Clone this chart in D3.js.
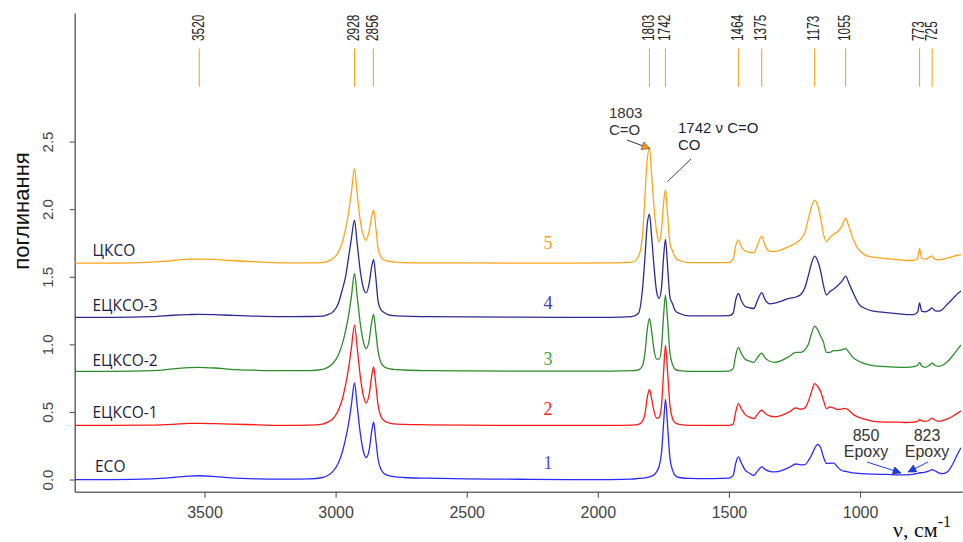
<!DOCTYPE html>
<html>
<head>
<meta charset="utf-8">
<script src="https://cdn.jsdelivr.net/npm/d3@7"></script>
<style>
  html, body { margin: 0; padding: 0; background: #fff; }
  svg { display: block; }
</style>
</head>
<body>
<svg id="chart" width="963" height="542"></svg>
<script>
// Wavenumbers (cm-1) shared by all spectra
const wavenumbers = [
  4000, 3850, 3700, 3620, 3560, 3520, 3460, 3400, 3300, 3200,
  3100, 3050, 3030, 3010, 2990, 2975, 2962, 2950, 2940, 2928,
  2918, 2905, 2893, 2883, 2872, 2862, 2855, 2847, 2838, 2828,
  2815, 2800, 2780, 2740, 2650, 2500, 2300, 2100, 1950, 1870,
  1845, 1830, 1820, 1812, 1803, 1795, 1785, 1775, 1766, 1757,
  1749, 1742, 1734, 1725, 1715, 1705, 1690, 1650, 1560, 1500,
  1484, 1474, 1464, 1452, 1438, 1420, 1405, 1392, 1375, 1362,
  1345, 1325, 1300, 1270, 1245, 1225, 1210, 1197, 1185, 1173,
  1162, 1150, 1140, 1128, 1115, 1100, 1085, 1068, 1055, 1042,
  1025, 1005, 980, 950, 900, 850, 823, 795, 780, 773,
  765, 752, 735, 726, 715, 700, 685, 665, 645, 625,
  615
];

// Absorbance of each sample (before vertical offset)
const absECO = [
  0.000, 0.000, 0.005, 0.015, 0.025, 0.028, 0.022, 0.012, 0.005, 0.003,
  0.005, 0.015, 0.030, 0.060, 0.120, 0.200, 0.300, 0.420, 0.550, 0.714,
  0.550, 0.330, 0.200, 0.163, 0.220, 0.360, 0.426, 0.300, 0.150, 0.080,
  0.045, 0.030, 0.022, 0.015, 0.010, 0.005, 0.002, 0.000, 0.000, 0.003,
  0.008, 0.010, 0.013, 0.016, 0.020, 0.025, 0.035, 0.060, 0.100, 0.200,
  0.420, 0.592, 0.400, 0.160, 0.070, 0.030, 0.015, 0.008, 0.007, 0.010,
  0.030, 0.120, 0.167, 0.120, 0.070, 0.045, 0.030, 0.060, 0.093, 0.075,
  0.060, 0.056, 0.065, 0.090, 0.115, 0.108, 0.110, 0.140, 0.180, 0.230,
  0.260, 0.235, 0.170, 0.120, 0.120, 0.122, 0.090, 0.065, 0.060, 0.055,
  0.049, 0.045, 0.042, 0.040, 0.038, 0.035, 0.035, 0.040, 0.045, 0.050,
  0.050, 0.055, 0.065, 0.074, 0.065, 0.050, 0.044, 0.060, 0.120, 0.200,
  0.235
];
const absECKSO1 = [
  0.000, 0.000, 0.002, 0.008, 0.015, 0.016, 0.014, 0.010, 0.005, 0.000,
  0.002, 0.010, 0.025, 0.050, 0.110, 0.190, 0.300, 0.430, 0.570, 0.741,
  0.580, 0.350, 0.210, 0.167, 0.230, 0.370, 0.433, 0.310, 0.150, 0.070,
  0.035, 0.020, 0.012, 0.008, 0.005, 0.003, 0.000, 0.000, 0.000, 0.002,
  0.008, 0.030, 0.090, 0.200, 0.266, 0.200, 0.100, 0.052, 0.060, 0.150,
  0.400, 0.593, 0.400, 0.150, 0.050, 0.020, 0.008, 0.000, 0.000, 0.000,
  0.010, 0.100, 0.161, 0.120, 0.080, 0.060, 0.050, 0.080, 0.114, 0.090,
  0.070, 0.064, 0.075, 0.100, 0.130, 0.120, 0.130, 0.180, 0.250, 0.310,
  0.290, 0.250, 0.190, 0.125, 0.137, 0.128, 0.118, 0.122, 0.127, 0.110,
  0.080, 0.060, 0.045, 0.030, 0.025, 0.025, 0.022, 0.025, 0.030, 0.044,
  0.035, 0.030, 0.040, 0.054, 0.040, 0.030, 0.035, 0.050, 0.070, 0.095,
  0.108
];
const absECKSO2 = [
  0.000, 0.000, 0.005, 0.018, 0.028, 0.030, 0.025, 0.015, 0.008, 0.005,
  0.006, 0.015, 0.030, 0.060, 0.120, 0.200, 0.300, 0.420, 0.550, 0.724,
  0.560, 0.340, 0.210, 0.169, 0.230, 0.370, 0.423, 0.300, 0.150, 0.070,
  0.035, 0.022, 0.015, 0.010, 0.006, 0.004, 0.002, 0.002, 0.002, 0.005,
  0.012, 0.040, 0.140, 0.300, 0.391, 0.300, 0.150, 0.090, 0.090, 0.180,
  0.420, 0.563, 0.380, 0.140, 0.050, 0.015, 0.005, 0.000, 0.000, 0.002,
  0.020, 0.120, 0.177, 0.130, 0.090, 0.075, 0.067, 0.100, 0.135, 0.100,
  0.075, 0.067, 0.080, 0.110, 0.140, 0.140, 0.160, 0.200, 0.280, 0.334,
  0.310, 0.260, 0.220, 0.140, 0.140, 0.153, 0.153, 0.160, 0.169, 0.140,
  0.100, 0.075, 0.055, 0.042, 0.035, 0.030, 0.030, 0.035, 0.045, 0.067,
  0.040, 0.030, 0.045, 0.061, 0.045, 0.037, 0.045, 0.075, 0.120, 0.170,
  0.195
];
const absECKSO3 = [
  0.000, 0.000, 0.005, 0.015, 0.020, 0.022, 0.020, 0.015, 0.008, 0.005,
  0.006, 0.008, 0.020, 0.040, 0.100, 0.200, 0.300, 0.450, 0.580, 0.718,
  0.550, 0.330, 0.210, 0.180, 0.250, 0.380, 0.427, 0.300, 0.120, 0.060,
  0.035, 0.020, 0.012, 0.008, 0.005, 0.003, 0.001, 0.000, 0.000, 0.005,
  0.030, 0.200, 0.450, 0.680, 0.762, 0.600, 0.360, 0.180, 0.139, 0.220,
  0.450, 0.577, 0.380, 0.150, 0.100, 0.050, 0.030, 0.010, 0.010, 0.012,
  0.030, 0.130, 0.176, 0.120, 0.080, 0.070, 0.065, 0.120, 0.183, 0.130,
  0.100, 0.105, 0.120, 0.140, 0.150, 0.170, 0.220, 0.310, 0.400, 0.452,
  0.420, 0.340, 0.240, 0.165, 0.190, 0.210, 0.235, 0.270, 0.304, 0.250,
  0.176, 0.100, 0.065, 0.045, 0.035, 0.025, 0.020, 0.020, 0.040, 0.106,
  0.045, 0.040, 0.055, 0.070, 0.050, 0.045, 0.060, 0.100, 0.140, 0.180,
  0.195
];
const absCKSO = [
  0.000, 0.000, 0.008, 0.020, 0.030, 0.030, 0.028, 0.020, 0.010, 0.003,
  0.002, 0.005, 0.015, 0.035, 0.080, 0.150, 0.250, 0.380, 0.520, 0.700,
  0.520, 0.300, 0.200, 0.170, 0.240, 0.350, 0.392, 0.270, 0.110, 0.050,
  0.025, 0.015, 0.010, 0.005, 0.003, 0.002, 0.000, 0.000, 0.002, 0.008,
  0.050, 0.200, 0.500, 0.760, 0.848, 0.660, 0.400, 0.220, 0.158, 0.250,
  0.450, 0.545, 0.360, 0.150, 0.090, 0.045, 0.020, 0.005, 0.005, 0.005,
  0.030, 0.130, 0.172, 0.120, 0.090, 0.080, 0.077, 0.130, 0.200, 0.130,
  0.090, 0.087, 0.100, 0.125, 0.150, 0.180, 0.230, 0.330, 0.420, 0.466,
  0.430, 0.330, 0.220, 0.160, 0.190, 0.215, 0.234, 0.280, 0.331, 0.270,
  0.172, 0.100, 0.060, 0.045, 0.035, 0.025, 0.020, 0.020, 0.040, 0.110,
  0.035, 0.030, 0.045, 0.054, 0.030, 0.025, 0.030, 0.040, 0.050, 0.060,
  0.063
];

const seriesNames = ["ECO", "ЕЦКСО-1", "ЕЦКСО-2", "ЕЦКСО-3", "ЦКСО"];
const seriesNumbers = ["1", "2", "3", "4", "5"];
const seriesOffsets = [0, 0.4, 0.8, 1.2, 1.6];
const seriesValues = [absECO, absECKSO1, absECKSO2, absECKSO3, absCKSO];
const seriesColors = ["#2a2aff", "#ff1a1a", "#2e8b2e", "#2b2b8f", "#ffa31a"];
const numberColors = ["#4a4ae6", "#ff2020", "#3aa63a", "#4040b8", "#ff9a30"];

// Characteristic band positions marked above the spectra
const markerPeaks = [3520, 2928, 2856, 1803, 1742, 1464, 1375, 1173, 1055, 773, 725];

const xTicks = [3500, 3000, 2500, 2000, 1500, 1000];
const yTicks = [0, 0.5, 1.0, 1.5, 2.0, 2.5];

const svg = d3.select("#chart");

const x = d3.scaleLinear().domain([3995, 610]).range([74.7, 962.3]);
const y = d3.scaleLinear().domain([-0.09, 3.45]).range([491.7, 13.1]);

// clip the spectra to the plotting area
svg.append("defs").append("clipPath").attr("id", "plotClip")
  .append("rect").attr("x", 75).attr("y", 0).attr("width", 886).attr("height", 491);

// axes
const xAxis = svg.append("g")
  .attr("transform", `translate(0,${y.range()[0]})`)
  .call(d3.axisBottom(x).tickValues(xTicks).tickFormat(d3.format("d")).tickSize(6).tickSizeOuter(0).tickPadding(9));
const yAxis = svg.append("g")
  .attr("transform", `translate(${x.range()[0]},0)`)
  .call(d3.axisLeft(y).tickValues(yTicks).tickFormat(d3.format(".1f")).tickSize(5).tickSizeOuter(0));

[xAxis, yAxis].forEach(g => {
  g.select(".domain").attr("stroke", "#6e6e6e").attr("stroke-width", 1.6);
  g.selectAll(".tick line").attr("stroke", "#555").attr("stroke-width", 1.1);
  g.selectAll(".tick text").attr("fill", "#444").attr("font-family", "Liberation Sans, Arial, sans-serif");
});
xAxis.selectAll(".tick text").attr("font-size", 16);
yAxis.selectAll(".tick text")
  .attr("font-size", 15)
  .attr("text-anchor", "middle")
  .attr("dy", null)
  .attr("x", null)
  .attr("transform", d => "translate(-22,0) rotate(-90)")
  .attr("y", 0)
  .attr("dominant-baseline", "auto");

// axis titles
svg.append("text")
  .attr("transform", "translate(29,211) rotate(-90)")
  .attr("text-anchor", "middle")
  .attr("font-family", "Liberation Sans, Arial, sans-serif")
  .attr("font-size", 22)
  .attr("fill", "#111")
  .text("поглинання");

const xTitle = svg.append("text")
  .attr("x", 893)
  .attr("y", 537)
  .attr("font-family", "Liberation Serif, Times New Roman, serif")
  .attr("font-size", 22)
  .attr("fill", "#111");
xTitle.append("tspan").text("ν, см");
xTitle.append("tspan").attr("font-size", 16).attr("dy", -10).text("-1");

// band markers at the top
const markers = svg.append("g");
markers.selectAll("line")
  .data(markerPeaks)
  .join("line")
  .attr("x1", d => x(d)).attr("x2", d => x(d))
  .attr("y1", 48.5).attr("y2", 86.7)
  .attr("stroke", "#ffa31a").attr("stroke-width", 1.1);
markers.selectAll("text")
  .data(markerPeaks)
  .join("text")
  .attr("transform", d => `translate(${x(d) + 4.5},41) rotate(-90) scale(0.74,1)`)
  .attr("font-family", "Liberation Sans, Arial, sans-serif")
  .attr("font-size", 16)
  .attr("fill", "#222")
  .text(d => d);

// spectra
const line = d3.line()
  .x(d => x(d[0]))
  .y(d => y(d[1]))
  .curve(d3.curveMonotoneX);

const plot = svg.append("g").attr("clip-path", "url(#plotClip)");
seriesValues.forEach((vals, i) => {
  const pts = wavenumbers.map((w, k) => [w, vals[k] + seriesOffsets[i]]);
  plot.append("path")
    .datum(pts)
    .attr("d", line)
    .attr("fill", "none")
    .attr("stroke", seriesColors[i])
    .attr("stroke-width", 1.3)
    .attr("stroke-linejoin", "round");
});

// sample names at the left
const nameY = [472, 418, 366, 311, 256];
svg.append("g").selectAll("text")
  .data(seriesNames)
  .join("text")
  .attr("x", (d, i) => i === 0 ? 95 : 92.5)
  .attr("y", (d, i) => nameY[i])
  .attr("font-family", "Open Sans, Lato, sans-serif")
  .attr("font-size", 15.5)
  .attr("fill", "#1c1c40")
  .text(d => d);

// sample numbers in the middle
const numY = [469, 415, 365, 309, 249];
svg.append("g").selectAll("text")
  .data(seriesNumbers)
  .join("text")
  .attr("x", 548)
  .attr("y", (d, i) => numY[i])
  .attr("text-anchor", "middle")
  .attr("font-family", "Liberation Serif, Times New Roman, serif")
  .attr("font-size", 18)
  .attr("fill", (d, i) => numberColors[i])
  .text(d => d);

// arrowheads
const defs = svg.select("defs");
function arrowHead(id, fill) {
  defs.append("marker")
    .attr("id", id)
    .attr("viewBox", "0 0 10 10")
    .attr("refX", 10).attr("refY", 5)
    .attr("markerWidth", 10).attr("markerHeight", 8)
    .attr("markerUnits", "userSpaceOnUse")
    .attr("orient", "auto")
    .append("path")
    .attr("d", "M0,0 L10,5 L0,10 Z")
    .attr("fill", fill)
    .attr("stroke", "#333")
    .attr("stroke-width", 0.6);
}
arrowHead("arrowOrange", "#f59a1a");
arrowHead("arrowBlue", "#1a3cff");

const ann = svg.append("g").attr("font-family", "Liberation Sans, Arial, sans-serif");

// 1803 C=O
ann.append("text").attr("x", 609).attr("y", 118).attr("font-size", 15).attr("fill", "#333").text("1803");
ann.append("text").attr("x", 609).attr("y", 135).attr("font-size", 15).attr("fill", "#333").text("C=O");
ann.append("line")
  .attr("x1", 627).attr("y1", 140)
  .attr("x2", x(1801)).attr("y2", y(absCKSO[44] + seriesOffsets[4]))
  .attr("stroke", "#333").attr("stroke-width", 1)
  .attr("marker-end", "url(#arrowOrange)");

// 1742 C=O / CO
ann.append("text").attr("x", 678).attr("y", 133).attr("font-size", 15).attr("fill", "#1a1f3a").text("1742 ν C=O");
ann.append("text").attr("x", 678).attr("y", 150).attr("font-size", 15).attr("fill", "#1a1f3a").text("CO");
ann.append("line")
  .attr("x1", 691).attr("y1", 159)
  .attr("x2", 667.5).attr("y2", 181.5)
  .attr("stroke", "#444").attr("stroke-width", 1);

// epoxy bands
ann.append("text").attr("x", 866).attr("y", 441).attr("text-anchor", "middle").attr("font-size", 16).attr("fill", "#333").text("850");
ann.append("text").attr("x", 866).attr("y", 457).attr("text-anchor", "middle").attr("font-size", 16).attr("fill", "#333").text("Epoxy");
ann.append("text").attr("x", 927).attr("y", 441).attr("text-anchor", "middle").attr("font-size", 16).attr("fill", "#333").text("823");
ann.append("text").attr("x", 927).attr("y", 457).attr("text-anchor", "middle").attr("font-size", 16).attr("fill", "#333").text("Epoxy");
ann.append("line")
  .attr("x1", 867).attr("y1", 462)
  .attr("x2", 901).attr("y2", 473)
  .attr("stroke", "#1a3cff").attr("stroke-width", 1)
  .attr("marker-end", "url(#arrowBlue)");
ann.append("line")
  .attr("x1", 928).attr("y1", 462)
  .attr("x2", 908).attr("y2", 472)
  .attr("stroke", "#1a3cff").attr("stroke-width", 1)
  .attr("marker-end", "url(#arrowBlue)");
</script>
</body>
</html>
